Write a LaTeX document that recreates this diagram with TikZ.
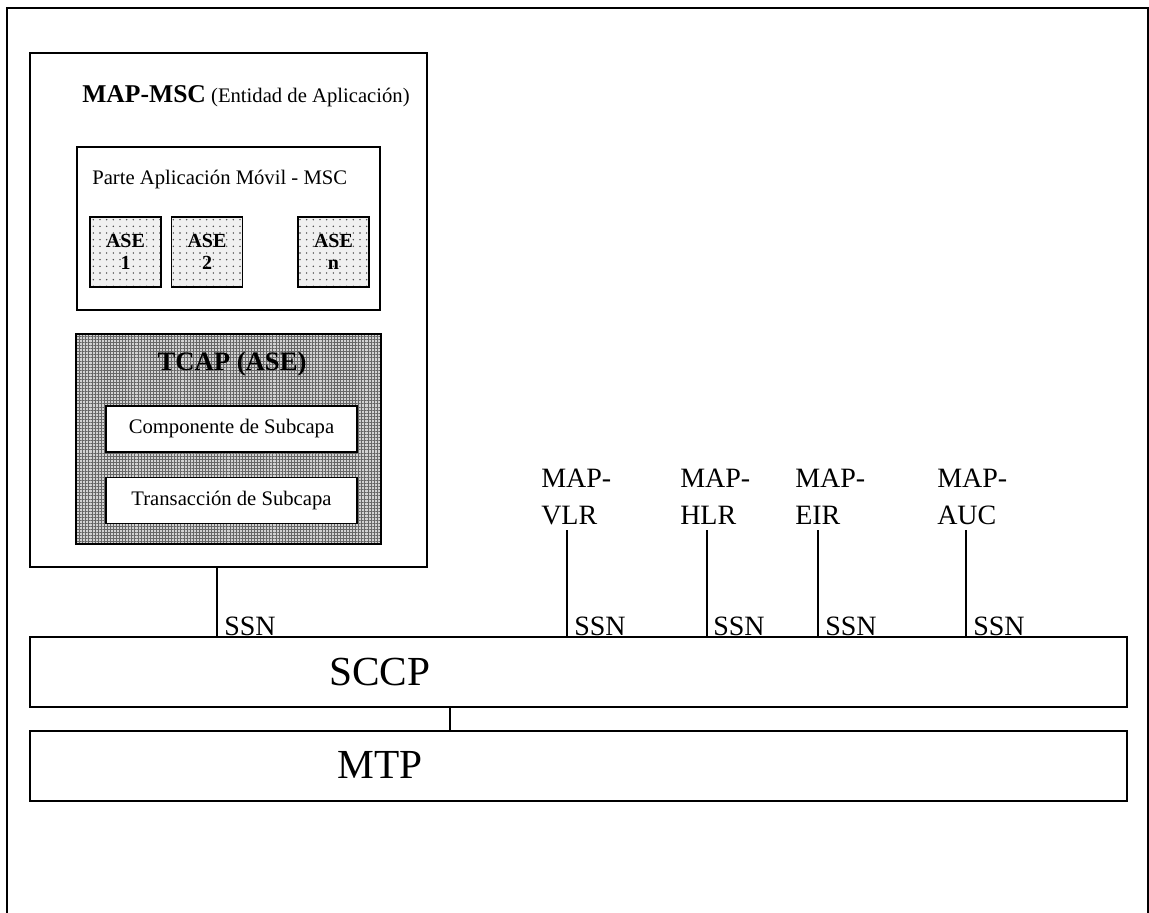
\documentclass[tikz,border=0pt]{standalone}
\usepackage{fontspec}
\setmainfont{Liberation Serif}
\usetikzlibrary{patterns.meta}

\newlength\pxu
\setlength\pxu{0.75pt}
\newcommand\fsz[2]{\fontsize{#1}{#2}\selectfont}

\tikzset{
  frame/.style={draw=black, line width=1.4pt},
  layer/.style={shape=rectangle, draw=black, line width=1.2pt, inner sep=0pt},
  ase/.style={layer, minimum width=71\pxu, minimum height=70\pxu,
              preaction={fill=gray!12},
              pattern={Dots[distance=5pt, radius=0.6pt]}, pattern color=black!75,
              align=center, font=\bfseries\fsz{15pt}{17pt}},
  tcap/.style={layer, minimum width=305\pxu, minimum height=210\pxu,
               preaction={fill=gray!35},
               pattern={Hatch[distance=2.3pt, line width=0.7pt]}, pattern color=gray!80!black},
  sub/.style={layer, fill=white, minimum width=251\pxu, minimum height=46\pxu,
              font=\fsz{15.5pt}{18pt}},
  txt/.style={inner sep=0pt, font=\fsz{15.5pt}{18pt}},
  big/.style={inner sep=0pt, font=\fsz{31pt}{36pt}},
  mapent/.style={inner sep=0pt, anchor=south west, align=left, font=\fsz{21pt}{27.75pt}},
  ssn/.style={inner sep=0pt, anchor=base west, font=\fsz{21pt}{24pt}},
  conn/.style={draw=black, line width=1.2pt},
}

\begin{document}
\begin{tikzpicture}[x=\pxu, y=-\pxu]
    \useasboundingbox (0,0) rectangle (1149,913);
    %% frame, open at the bottom
    \draw[frame] (7,913) -- (7,8) -- (1148,8) -- (1148,913);

    %%   (lable)  (x, y)     {\text}
    \node[layer, minimum width=397\pxu, minimum height=514\pxu] (msc) at (228.5,310) {};
    \node[txt, anchor=base west] (msctitle) at (82,103) {{\bfseries\fsz{19.2pt}{23pt}MAP-MSC} (Entidad de Aplicación)};

    \node[layer, minimum width=303\pxu, minimum height=163\pxu] (map) at (228.5,228.5) {};
    \node[txt, anchor=base west] (maptitle) at (92,185) {Parte Aplicación Móvil - MSC};
    \node[ase] (ase1) at (125.5,252) {ASE\\1};
    \node[ase] (ase2) at (207,252)   {ASE\\2};
    \node[ase] (asen) at (333.5,252) {ASE\\n};

    \node[tcap] (tcap) at (228.5,439) {};
    \node[txt, anchor=base, font=\bfseries\fsz{20pt}{24pt}] (tcaptitle) at (232,370) {TCAP (ASE)};
    \node[sub] (comp)  at (231.5,429)   {Componente de Subcapa};
    \node[sub] (trans) at (231.5,500.5) {Transacción de Subcapa};

    \node[layer, minimum width=1097\pxu, minimum height=70\pxu] (sccp) at (578.5,672) {};
    \node[big, anchor=base] (sccplbl) at (380,685) {SCCP};
    \node[layer, minimum width=1097\pxu, minimum height=70\pxu] (mtp)  at (578.5,766) {};
    \node[big, anchor=base] (mtplbl) at (380,778) {MTP};

    \node[mapent] (vlr) at (541,525) {MAP-\\VLR};
    \node[mapent] (hlr) at (680,525) {MAP-\\HLR};
    \node[mapent] (eir) at (795,525) {MAP-\\EIR};
    \node[mapent] (auc) at (937,525) {MAP-\\AUC};

    \coordinate (c0) at (217,0);
    \coordinate (c1) at (567,0);
    \coordinate (c2) at (707,0);
    \coordinate (c3) at (818,0);
    \coordinate (c4) at (966,0);
    \coordinate (cm) at (450,0);

    \draw[conn] (c0 |- msc.south) -- (c0 |- sccp.north);
    \draw[conn] ([yshift=-5\pxu]c1 |- vlr.south) -- (c1 |- sccp.north);
    \draw[conn] ([yshift=-5\pxu]c2 |- hlr.south) -- (c2 |- sccp.north);
    \draw[conn] ([yshift=-5\pxu]c3 |- eir.south) -- (c3 |- sccp.north);
    \draw[conn] ([yshift=-5\pxu]c4 |- auc.south) -- (c4 |- sccp.north);
    \draw[conn] (cm |- sccp.south) -- (cm |- mtp.north);

    \node[ssn] (ssn0) at (224,635) {SSN};
    \node[ssn] (ssn1) at (574,635) {SSN};
    \node[ssn] (ssn2) at (713,635) {SSN};
    \node[ssn] (ssn3) at (825,635) {SSN};
    \node[ssn] (ssn4) at (973,635) {SSN};

\end{tikzpicture}
\end{document}
